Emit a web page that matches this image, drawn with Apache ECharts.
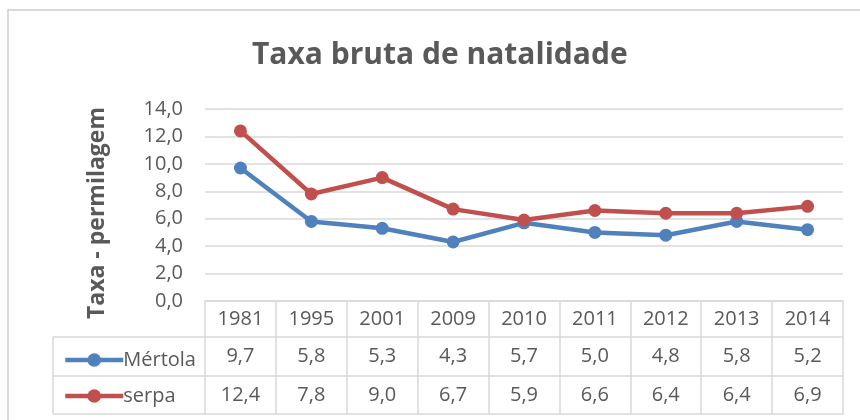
<!DOCTYPE html>
<html>
<head>
<meta charset="utf-8">
<script src="https://cdn.jsdelivr.net/npm/echarts@6/dist/echarts.min.js"></script>
<style>html,body{margin:0;padding:0;background:#fff;}#c{width:860px;height:420px;}</style>
</head>
<body>
<div id="c"></div>
<script>
const years = ['1981','1995','2001','2009','2010','2011','2012','2013','2014'];
const mertola = [9.7, 5.8, 5.3, 4.3, 5.7, 5.0, 4.8, 5.8, 5.2];
const serpa = [12.4, 7.8, 9.0, 6.7, 5.9, 6.6, 6.4, 6.4, 6.9];
const yTicks = [0, 2, 4, 6, 8, 10, 12, 14];

const FONT = 'Open Sans';
const GRAY = '#595959';
const LINE = '#d9d9d9';
const fmt = v => Number(v).toFixed(1).replace('.', ',');

const chart = echarts.init(document.getElementById('c'), null, {renderer: 'canvas'});
const baseX = {
  type: 'category', position: 'bottom', boundaryGap: true,
  axisLine: {show: true, lineStyle: {color: LINE, width: 1.5}},
  axisTick: {show: false},
  splitLine: {show: false},
  axisLabel: {color: GRAY, fontFamily: FONT, fontSize: 20, margin: 8, interval: 0}
};
chart.setOption({
  animation: false,
  title: {
    text: 'Taxa bruta de natalidade', left: 247, top: 35,
    textStyle: {fontFamily: FONT, fontWeight: 'bold', fontSize: 30, color: GRAY}
  },
  legend: {
    orient: 'vertical', left: 58, top: 345, itemGap: 16,
    itemWidth: 58, itemHeight: 17,
    lineStyle: {width: 4.5},
    textStyle: {fontFamily: FONT, fontSize: 20, color: GRAY, padding: [0, 0, 0, -5]},
    data: ['Mértola', 'serpa']
  },
  grid: {left: 205, right: 17, top: 109, bottom: 119},
  xAxis: [
    Object.assign({}, baseX, {
      data: years,
      axisTick: {show: true, length: 113, interval: 0, lineStyle: {color: LINE, width: 1.5}}
    }),
    Object.assign({}, baseX, {offset: 36, data: mertola.map(fmt), axisLabel: Object.assign({}, baseX.axisLabel, {margin: 9})}),
    Object.assign({}, baseX, {offset: 75, data: serpa.map(fmt), axisLabel: Object.assign({}, baseX.axisLabel, {margin: 9})}),
    Object.assign({}, baseX, {offset: 113, data: years, axisLabel: {show: false}})
  ],
  yAxis: {
    type: 'value', min: yTicks[0], max: yTicks[yTicks.length - 1], interval: 2,
    name: 'Taxa - permilagem', nameLocation: 'middle', nameRotate: 90, nameGap: 96,
    nameTextStyle: {fontFamily: FONT, fontWeight: 'bold', fontSize: 23, color: GRAY, padding: [0, 0, 0, -16]},
    axisLine: {show: false}, axisTick: {show: false},
    axisLabel: {color: GRAY, fontFamily: FONT, fontSize: 20, margin: 22, formatter: fmt},
    splitLine: {lineStyle: {color: LINE, width: 1.5}}
  },
  series: [
    {name: 'Mértola', type: 'line', data: mertola, xAxisIndex: 0,
     symbol: 'circle', symbolSize: 13, color: '#4f81bd', lineStyle: {width: 4.5, color: '#4f81bd'}, itemStyle: {color: '#4f81bd'}},
    {name: 'serpa', type: 'line', data: serpa, xAxisIndex: 0,
     symbol: 'circle', symbolSize: 13, color: '#c0504d', lineStyle: {width: 4.5, color: '#c0504d'}, itemStyle: {color: '#c0504d'}}
  ],
  graphic: [
    {type: 'rect', shape: {x: 8, y: 10, width: 900, height: 500}, style: {fill: 'none', stroke: LINE, lineWidth: 2}, silent: true, z: -1},
    {type: 'line', shape: {x1: 53, y1: 337, x2: 205, y2: 337}, style: {stroke: LINE, lineWidth: 1.5}},
    {type: 'line', shape: {x1: 53, y1: 376, x2: 205, y2: 376}, style: {stroke: LINE, lineWidth: 1.5}},
    {type: 'line', shape: {x1: 53, y1: 414, x2: 205, y2: 414}, style: {stroke: LINE, lineWidth: 1.5}},
    {type: 'line', shape: {x1: 53, y1: 337, x2: 53, y2: 414}, style: {stroke: LINE, lineWidth: 1.5}}
  ]
});
</script>
</body>
</html>
